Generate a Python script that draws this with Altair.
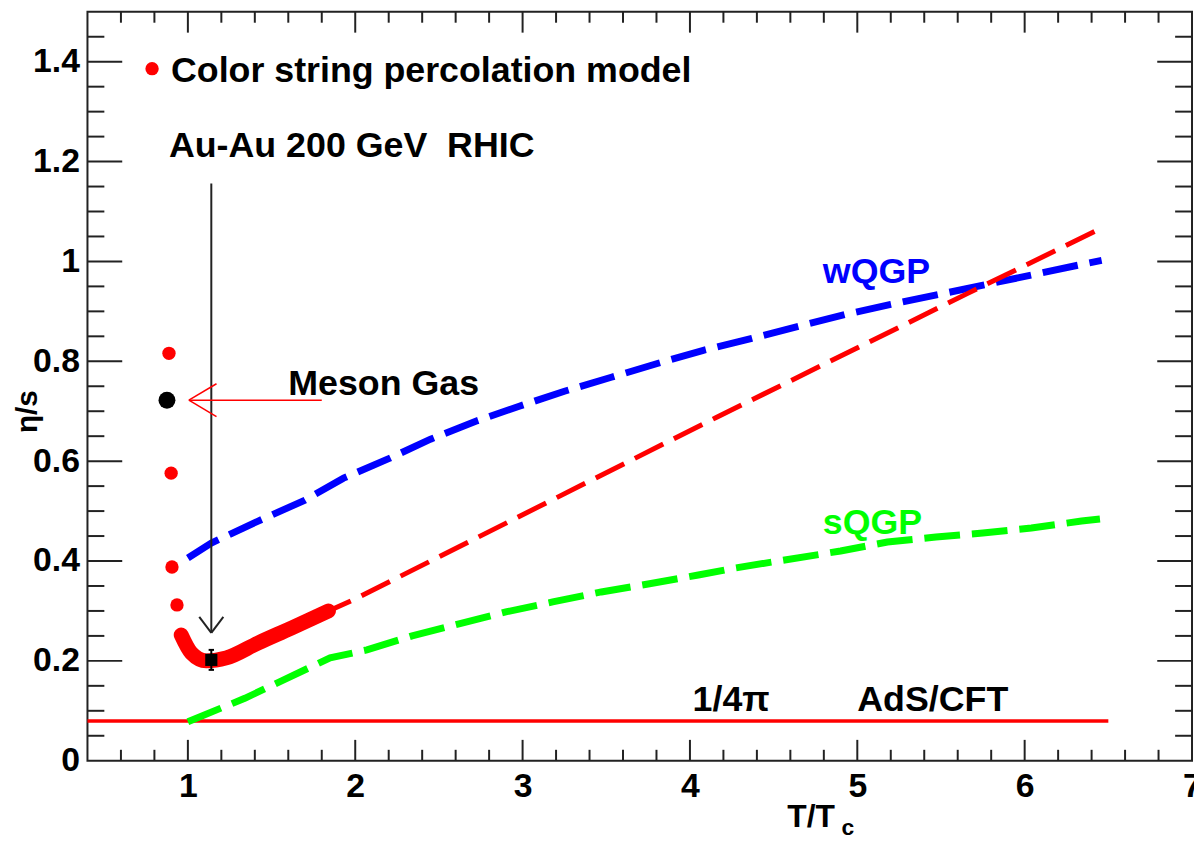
import math
import altair as alt
import pandas as pd

# ---------------- data ----------------
# Color string percolation model: isolated points near Tc
cspm_pts_x = [0.887, 0.900, 0.905, 0.935]
cspm_pts_y = [0.816, 0.576, 0.388, 0.312]
# dense band of CSPM points
cspm_band_x = [0.96, 1.02, 1.11, 1.23, 1.42, 1.62, 1.84]
cspm_band_y = [0.252, 0.216, 0.200, 0.206, 0.236, 0.266, 0.300]
# CSPM dashed extrapolation
cspm_ext_x = [1.80, 2.00, 3.21, 4.16, 5.66, 6.48]
cspm_ext_y = [0.294, 0.324, 0.528, 0.688, 0.936, 1.070]
# weakly coupled QGP
wqgp_x = [1.00, 1.14, 1.42, 1.70, 1.93, 2.20, 2.45, 2.72, 2.98, 3.25, 3.53,
          3.81, 4.08, 4.37, 4.65, 4.93, 5.20, 5.49, 5.77, 6.06, 6.34, 6.46]
wqgp_y = [0.406, 0.436, 0.480, 0.522, 0.566, 0.605, 0.644, 0.680, 0.710, 0.740, 0.768,
          0.796, 0.822, 0.846, 0.870, 0.894, 0.914, 0.934, 0.954, 0.974, 0.994, 1.002]
# strongly coupled QGP
sqgp_x = [1.00, 1.34, 1.56, 1.85, 2.07, 2.34, 2.62, 2.90, 3.18, 3.47, 3.75,
          4.05, 4.27, 4.90, 5.18, 5.47, 5.75, 6.04, 6.34, 6.45]
sqgp_y = [0.078, 0.125, 0.160, 0.206, 0.222, 0.250, 0.274, 0.298, 0.318, 0.338, 0.354,
          0.372, 0.386, 0.420, 0.438, 0.448, 0.456, 0.466, 0.480, 0.484]
# meson gas point
meson_x = [0.875]
meson_y = [0.722]
# RHIC Au-Au point with error
rhic_x = [1.14]
rhic_y = [0.202]
rhic_err = [0.02]
# AdS/CFT bound
ads_y = 1.0 / (4.0 * math.pi)
ads_x = [0.4, 6.5]

# axis ticks
x_major = [1, 2, 3, 4, 5, 6, 7]
x_minor = [round(0.2 * k, 1) for k in range(3, 35) if (2 * k) % 10 != 0]
y_major = [0, 0.2, 0.4, 0.6, 0.8, 1.0, 1.2, 1.4]
y_minor = [round(0.05 * k, 2) for k in range(1, 30) if k % 4 != 0]

# annotations (data coordinates)
label_text = ["Color string percolation model", "Au-Au 200 GeV\u00a0\u00a0RHIC", "Meson Gas",
              "1/4\u03c0", "AdS/CFT"]
label_x = [0.899, 0.887, 1.60, 4.016, 5.0]
label_y = [1.360, 1.210, 0.732, 0.100, 0.100]
model_text = ["wQGP", "sQGP"]
model_x = [4.794, 4.794]
model_y = [0.956, 0.454]
model_col = ["#0000ff", "#00ff00"]
sub_text = ["c"]
sub_x = [4.905]
sub_y = [-0.149]

# arrows (data coordinates)
rhic_arrow = dict(x=1.14, y_top=1.156, y_tip=0.256, arm_dx=0.072, arm_dy=0.032)
meson_arrow = dict(x_tail=1.80, x_tip=1.006, y=0.722, arm_dx=0.165, arm_dy=0.033)

# ---------------- chart ----------------
W, H = 1112, 754
FONT = "Liberation Sans"
TC = "#222222"
xs = alt.Scale(domain=[0.4, 7.0], nice=False, zero=False)
ys = alt.Scale(domain=[0.0, 1.5], nice=False, zero=False)

xaxis = alt.Axis(values=x_major, format="d", ticks=False, domain=False, grid=False,
                 labelFont=FONT, labelFontSize=34, labelFontWeight="bold", labelColor="black",
                 labelPadding=9, labelFlush=False, labelOverlap=False,
                 title="T/T", titleFont=FONT, titleFontSize=32, titleFontWeight="bold",
                 titleColor="black", titleX=752, titleY=66, titleAlign="right",
                 titleBaseline="alphabetic", titleAnchor="start")
yaxis = alt.Axis(values=y_major, format="~g", ticks=False, domain=False, grid=False,
                 labelFont=FONT, labelFontSize=34, labelFontWeight="bold", labelColor="black",
                 labelPadding=8, labelFlush=False, labelOverlap=False,
                 title="\u03b7/s", titleFont=FONT, titleFontSize=30, titleFontWeight="bold",
                 titleColor="black", titleX=-60, titleY=402, titleAngle=270,
                 titleAlign="center", titleBaseline="middle", titleAnchor="start")


def X(field="x"):
    return alt.X(f"{field}:Q", scale=xs, axis=xaxis)


def Y(field="y"):
    return alt.Y(f"{field}:Q", scale=ys, axis=yaxis)


ads_df = pd.DataFrame({"x": ads_x, "y": [ads_y, ads_y]})
ads_layer = alt.Chart(ads_df).mark_line(color="#ff0000", strokeWidth=3.5).encode(x=X(), y=Y())

wqgp_layer = alt.Chart(pd.DataFrame({"x": wqgp_x, "y": wqgp_y})).mark_line(
    color="#0000ff", strokeWidth=7, strokeDash=[36, 12]).encode(x=X(), y=Y())
sqgp_layer = alt.Chart(pd.DataFrame({"x": sqgp_x, "y": sqgp_y})).mark_line(
    color="#00ff00", strokeWidth=7, strokeDash=[36, 12]).encode(x=X(), y=Y())
ext_layer = alt.Chart(pd.DataFrame({"x": cspm_ext_x, "y": cspm_ext_y})).mark_line(
    color="#ff0000", strokeWidth=5, strokeDash=[32, 12]).encode(x=X(), y=Y())
band_layer = alt.Chart(pd.DataFrame({"x": cspm_band_x, "y": cspm_band_y})).mark_line(
    color="#ff0000", strokeWidth=15, strokeCap="round", strokeJoin="round",
    interpolate="monotone").encode(x=X(), y=Y())
pts_layer = alt.Chart(pd.DataFrame({"x": cspm_pts_x, "y": cspm_pts_y})).mark_circle(
    color="#ff0000", size=180, opacity=1).encode(x=X(), y=Y())
meson_layer = alt.Chart(pd.DataFrame({"x": meson_x, "y": meson_y})).mark_circle(
    color="black", size=290, opacity=1).encode(x=X(), y=Y())

rhic_df = pd.DataFrame({"x": rhic_x, "y": rhic_y,
                        "lo": [v - e for v, e in zip(rhic_y, rhic_err)],
                        "hi": [v + e for v, e in zip(rhic_y, rhic_err)]})
rhic_err_layer = alt.Chart(rhic_df).mark_rule(color="black", strokeWidth=2).encode(
    x=X(), y=Y("lo"), y2="hi:Q")
cap_df = pd.DataFrame({"x": [rhic_x[0] - 0.016] * 2, "x2": [rhic_x[0] + 0.016] * 2,
                       "y": [rhic_df.lo[0], rhic_df.hi[0]]})
rhic_cap_layer = alt.Chart(cap_df).mark_rule(color="black", strokeWidth=2).encode(
    x=X(), x2="x2:Q", y=Y())
rhic_layer = alt.Chart(rhic_df).mark_square(color="black", size=150, opacity=1).encode(
    x=X(), y=Y())

# arrows
ra = rhic_arrow
rhic_arrow_df = pd.DataFrame({
    "x": [ra["x"], ra["x"], ra["x"]],
    "y": [ra["y_top"], ra["y_tip"], ra["y_tip"]],
    "x2": [ra["x"], ra["x"] - ra["arm_dx"], ra["x"] + ra["arm_dx"]],
    "y2": [ra["y_tip"], ra["y_tip"] + ra["arm_dy"], ra["y_tip"] + ra["arm_dy"]],
})
rhic_arrow_layer = alt.Chart(rhic_arrow_df).mark_rule(color=TC, strokeWidth=2).encode(
    x=X(), y=Y(), x2="x2:Q", y2="y2:Q")
ma = meson_arrow
meson_arrow_df = pd.DataFrame({
    "x": [ma["x_tail"], ma["x_tip"], ma["x_tip"]],
    "y": [ma["y"], ma["y"], ma["y"]],
    "x2": [ma["x_tip"], ma["x_tip"] + ma["arm_dx"], ma["x_tip"] + ma["arm_dx"]],
    "y2": [ma["y"], ma["y"] + ma["arm_dy"], ma["y"] - ma["arm_dy"]],
})
meson_arrow_layer = alt.Chart(meson_arrow_df).mark_rule(color="#ff0000", strokeWidth=1.5).encode(
    x=X(), y=Y(), x2="x2:Q", y2="y2:Q")

# legend marker
legend_df = pd.DataFrame({"x": [0.786], "y": [1.386]})
legend_layer = alt.Chart(legend_df).mark_circle(color="#ff0000", size=180, opacity=1).encode(
    x=X(), y=Y())

# texts
txt_df = pd.DataFrame({"x": label_x, "y": label_y, "t": label_text})
txt_layer = alt.Chart(txt_df).mark_text(
    font=FONT, fontSize=36, fontWeight="bold", color="black", align="left",
    baseline="alphabetic").encode(x=X(), y=Y(), text="t:N")
mtxt_df = pd.DataFrame({"x": model_x, "y": model_y, "t": model_text, "c": model_col})
mtxt_layer = alt.Chart(mtxt_df).mark_text(
    font=FONT, fontSize=36, fontWeight="bold", align="left",
    baseline="alphabetic").encode(x=X(), y=Y(), text="t:N",
                                  color=alt.Color("c:N", scale=None))
sub_df = pd.DataFrame({"x": sub_x, "y": sub_y, "t": sub_text})
sub_layer = alt.Chart(sub_df).mark_text(
    font=FONT, fontSize=23, fontWeight="bold", color="black", align="left",
    baseline="alphabetic").encode(x=X(), y=Y(), text="t:N")

# ROOT-style inward ticks on all four sides
xmaj = pd.DataFrame({"x": x_major[:-1]})
xmin = pd.DataFrame({"x": x_minor})
ymaj = pd.DataFrame({"y": y_major[1:]})
ymin = pd.DataFrame({"y": y_minor})
tick_layers = [
    alt.Chart(xmaj).mark_rule(color=TC, strokeWidth=2).encode(x=X(), y=alt.value(H), y2=alt.value(H - 21)),
    alt.Chart(xmaj).mark_rule(color=TC, strokeWidth=2).encode(x=X(), y=alt.value(0), y2=alt.value(21)),
    alt.Chart(xmin).mark_rule(color=TC, strokeWidth=2).encode(x=X(), y=alt.value(H), y2=alt.value(H - 11)),
    alt.Chart(xmin).mark_rule(color=TC, strokeWidth=2).encode(x=X(), y=alt.value(0), y2=alt.value(11)),
    alt.Chart(ymaj).mark_rule(color=TC, strokeWidth=2).encode(y=Y(), x=alt.value(0), x2=alt.value(35)),
    alt.Chart(ymaj).mark_rule(color=TC, strokeWidth=2).encode(y=Y(), x=alt.value(W), x2=alt.value(W - 35)),
    alt.Chart(ymin).mark_rule(color=TC, strokeWidth=2).encode(y=Y(), x=alt.value(0), x2=alt.value(17)),
    alt.Chart(ymin).mark_rule(color=TC, strokeWidth=2).encode(y=Y(), x=alt.value(W), x2=alt.value(W - 17)),
]

chart = alt.layer(
    ads_layer, wqgp_layer, sqgp_layer, ext_layer, band_layer, pts_layer,
    rhic_err_layer, rhic_cap_layer, rhic_layer, meson_layer,
    rhic_arrow_layer, meson_arrow_layer, legend_layer,
    txt_layer, mtxt_layer, sub_layer, *tick_layers,
).properties(
    width=W, height=H,
    autosize=alt.AutoSizeParams(type="none"),
    padding={"left": 80, "top": 1, "right": 2, "bottom": 77},
    background="white",
).configure_view(stroke=TC, strokeWidth=2)

chart.save("out.html", embed_options={"renderer": "svg", "actions": False})
